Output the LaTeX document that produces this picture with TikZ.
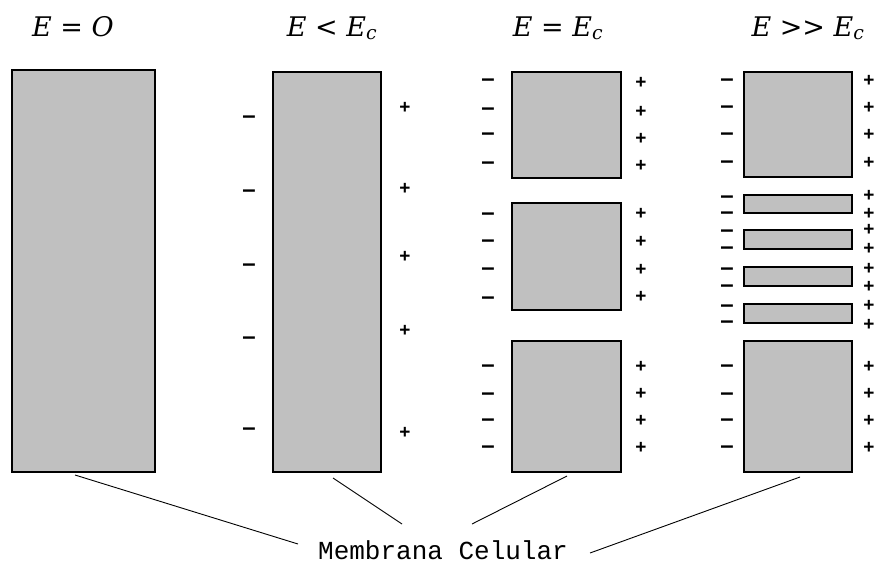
\documentclass[tikz,border=0pt]{standalone}
\usepackage{fontspec}
\newfontfamily\titlefont{DejaVu Serif}
\newfontfamily\signfont{Liberation Sans}
\newfontfamily\labelfont{Liberation Mono}
\definecolor{cellgray}{HTML}{C0C0C0}
\begin{document}
\begin{tikzpicture}[x=1pt,y=-1pt,
  cell/.style={draw=black,fill=cellgray,line width=1.2pt},
  title/.style={font=\titlefont\itshape\fontsize{27}{30}\selectfont,inner sep=0pt,anchor=base},
  negfont/.style={font=\signfont\bfseries\fontsize{24}{24}\selectfont,inner sep=0pt},
  posfont/.style={font=\signfont\bfseries\fontsize{19}{19}\selectfont,inner sep=0pt},
  negsign/.style={negfont,text height=2pt,text depth=0pt,yshift=-6pt},
  possign/.style={posfont,text height=4pt,text depth=0pt,yshift=-4pt},
  % two stacked signs beside a thin strip, placed by the lower sign's baseline
  negpair/.style={negfont,anchor=base,text height=24pt,text depth=0pt},
  pospair/.style={posfont,anchor=base,text height=30pt,text depth=0pt},
  lead/.style={draw=black,line width=0.9pt}]
\useasboundingbox (0,0) rectangle (876,566);
\fill[white] (0,0) rectangle (876,566);

% field strength headings
\node[title] (t1) at (73,36) {E = O};
\node[title] (t2) at (332,36) {E < E\textsubscript{c}};
\node[title] (t3) at (558,36) {E = E\textsubscript{c}};
\node[title] (t4) at (808,36) {E >> E\textsubscript{c}};

% membranes
\draw[cell] (12,70) rectangle (155,472);
\coordinate (c1b) at (75,475);
\draw[cell] (273,72) rectangle (381,472);
\coordinate (c2b) at (333,478);
\draw[cell] (512,72) rectangle (621,178);
\draw[cell] (512,203) rectangle (621,310);
\draw[cell] (512,341) rectangle (621,472);
\coordinate (c3b) at (567,476);
\draw[cell] (744,72) rectangle (852,177);
\draw[cell] (744,195) rectangle (852,213);
\draw[cell] (744,230) rectangle (852,249);
\draw[cell] (744,267) rectangle (852,286);
\draw[cell] (744,304) rectangle (852,323);
\draw[cell] (744,341) rectangle (852,472);
\coordinate (c4b) at (800,477);

% charges, E < Ec
\foreach \y [count=\i] in {116,190,264,337,428}
  \node[negsign] (nb\i) at (249,\y) {–};
\foreach \y [count=\i] in {107,188,256,330,432}
  \node[possign] (pb\i) at (405,\y) {+};

% charges, E = Ec
\foreach \y [count=\i] in {79,108,133,162,213,240,268,297,365,393,419,446}
  \node[negsign] (nc\i) at (488,\y) {–};
\foreach \y [count=\i] in {82,111,138,165,213,241,269,296,366,393,420,447}
  \node[possign] (pc\i) at (641,\y) {+};

% charges, E >> Ec
\foreach \y [count=\i] in {79,106,133,161,365,393,419,446}
  \node[negsign] (nd\i) at (727,\y) {–};
\foreach \y [count=\i] in {80,107,134,162,366,393,420,447}
  \node[possign] (pd\i) at (869,\y) {+};
\foreach \y/\r [count=\i] in {213/16,248/17,286/17,322/16}
  \node[negpair] (ns\i) at (727,\y+6.4) {\rlap{–}\raisebox{\r pt}{–}};
\foreach \y/\r [count=\i] in {213/18,248/19,286/18,324/19}
  \node[pospair] (ps\i) at (869,\y+6.6) {\rlap{+}\raisebox{\r pt}{+}};

% label and its leader lines
\node[font=\labelfont\fontsize{26}{26}\selectfont,inner sep=0pt] (mem) at (443,550) {Membrana Celular};
\coordinate (l1) at (298,544);
\coordinate (l2) at (402,524);
\coordinate (l3) at (472,524);
\coordinate (l4) at (590,553);
\draw[lead] (c1b) -- (l1);
\draw[lead] (c2b) -- (l2);
\draw[lead] (c3b) -- (l3);
\draw[lead] (c4b) -- (l4);
\end{tikzpicture}
\end{document}
